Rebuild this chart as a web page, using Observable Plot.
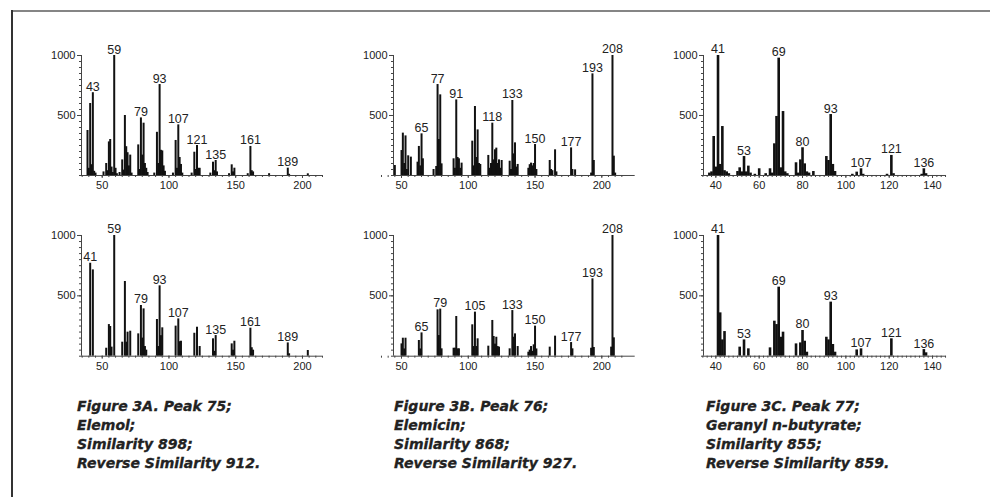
<!DOCTYPE html>
<html><head><meta charset="utf-8">
<script src="https://cdn.jsdelivr.net/npm/d3@7"></script>
<script src="https://cdn.jsdelivr.net/npm/@observablehq/plot@0.6"></script>
<style>
body{margin:0;background:#fff;}
#page{position:relative;width:990px;height:497px;overflow:hidden;background:#fff;}
.cap{position:absolute;font-family:"DejaVu Sans",sans-serif;font-weight:bold;font-style:italic;font-size:14px;line-height:19px;color:#222;white-space:nowrap;-webkit-text-stroke:0.3px #222;}
#bt{position:absolute;left:11px;top:10px;right:0;height:2px;background:#858585;}
#bl{position:absolute;left:11px;top:10px;width:2px;bottom:0;background:#333;}
</style></head>
<body>
<div id="page">
<div id="bt"></div><div id="bl"></div>
</div>
<script>
// ---- Figure 3A: Elemol (top = sample, bottom = library)
const aTopMz  = [39,40,41,42,43,44,45,51,53,54,55,56,57,58,59,60,61,63,65,66,67,68,69,70,71,72,77,78,79,80,81,82,83,84,89,91,92,93,94,95,96,97,103,105,106,107,108,109,110,117,119,120,121,122,123,131,133,134,135,136,145,147,148,149,159,161,162,163,175,189,190,204];
const aTopInt = [375,60,600,90,690,35,20,30,100,40,280,300,70,25,1000,60,15,25,130,45,500,240,190,80,170,20,255,50,480,170,436,100,60,25,20,360,100,758,210,205,80,35,20,292,60,422,150,92,20,20,194,50,250,60,60,20,111,40,125,30,15,89,30,61,15,242,40,30,15,61,10,14];
const aTopLabels = [43,59,79,93,107,121,135,161,189];

const aBotMz  = [41,43,53,55,56,57,59,65,67,68,69,71,77,79,80,81,82,83,91,92,93,94,95,105,107,108,109,119,121,123,133,134,135,147,148,149,161,162,163,189,190,204];
const aBotInt = [770,715,66,262,246,75,1000,116,619,116,199,207,185,420,150,392,80,50,304,80,583,170,235,249,309,120,124,190,240,80,144,40,171,102,50,124,232,70,50,110,20,47];
const aBotLabels = [41,59,79,93,107,135,161,189];

// ---- Figure 3B: Elemicin
const bTopMz  = [45,50,51,52,53,54,55,57,62,63,64,65,66,74,76,77,78,79,80,89,90,91,92,93,94,95,103,104,105,106,107,108,109,115,116,117,118,119,120,121,122,123,124,125,131,132,133,134,135,136,137,145,146,147,148,149,150,151,161,162,163,165,166,177,178,180,192,193,194,208,209,210];
const bTopInt = [83,208,353,100,330,50,164,153,111,242,80,347,139,50,75,758,300,672,97,139,60,630,150,139,60,103,286,80,575,150,380,100,92,167,60,100,436,130,214,228,100,130,60,125,119,50,625,180,272,70,92,60,90,103,80,100,258,50,125,50,40,214,30,230,50,47,20,847,125,1000,161,20];
const bTopLabels = [65,77,91,118,133,150,177,193,208];

const bBotMz  = [50,51,52,53,63,64,65,77,78,79,80,89,90,91,92,93,103,104,105,106,107,115,118,119,120,121,122,123,131,133,134,135,137,145,146,147,148,149,150,151,161,165,177,178,192,193,194,207,208,209];
const bBotInt = [102,149,60,149,130,60,193,384,171,390,61,66,66,329,61,61,260,80,365,80,144,83,296,163,100,157,80,75,61,378,157,185,80,33,50,80,40,94,249,60,75,166,113,61,66,641,72,75,1000,152];
const bBotLabels = [65,79,105,133,150,177,193,208];

// ---- Figure 3C: Geranyl n-butyrate
const cTopMz  = [37,38,39,40,41,42,43,44,45,46,50,51,52,53,54,55,56,58,60,63,65,66,67,68,69,70,71,72,73,77,78,79,80,81,82,83,85,91,92,93,94,95,103,105,107,108,119,121,122,135,136,137];
const cTopInt = [20,30,325,70,1000,92,408,40,30,15,33,64,30,158,30,78,20,10,56,15,56,20,264,492,978,64,533,30,15,106,20,130,231,97,30,20,33,158,125,508,92,33,10,28,56,10,10,167,15,10,56,15];
const cTopLabels = [41,53,69,80,93,107,121,136];

const cBotMz  = [41,42,43,44,51,53,55,65,67,68,69,70,71,77,79,80,81,82,91,92,93,94,95,105,107,121,136,137];
const cBotInt = [1000,359,135,204,75,135,61,69,290,262,572,157,199,102,110,213,124,33,157,135,448,97,33,52,61,144,55,28];
const cBotLabels = [41,53,69,80,93,107,121,136];

// axis ticks
const abMajor = [50,100,150,200];
const abMinor = d3.range(35, 216, 5);
const cMajor = [40,60,80,100,120,140];
const cMinor = d3.range(34, 147, 2);
const yMajor = [500,1000];
const yMinor = d3.range(0, 1001, 50);

const captions = [
  ["Figure 3A. Peak 75;","Elemol;","Similarity 898;","Reverse Similarity 912."],
  ["Figure 3B. Peak 76;","Elemicin;","Similarity 868;","Reverse Similarity 927."],
  ["Figure 3C. Peak 77;","Geranyl n-butyrate;","Similarity 855;","Reverse Similarity 859."]
];

const page = document.getElementById("page");

function panel(mz, inten, labels, cfg) {
  const data = mz.map((m,i)=>({mz:m, v:inten[i]}));
  const lab = labels.map(m=>({mz:m, v:inten[mz.indexOf(m)]}));
  const mL=62, mT=40, mR=12, mB=26;
  const ink = "#444";
  const svg = Plot.plot({
    width: cfg.px1-cfg.px0+mL+mR,
    height: cfg.py0-cfg.py1000+mT+mB,
    marginLeft:mL, marginTop:mT, marginRight:mR, marginBottom:mB,
    x:{type:"linear", domain:cfg.domain, label:null},
    y:{domain:[0,1000], label:null},
    style:{fontFamily:"Arial, 'Liberation Sans', sans-serif", fontSize:"11px", color:"#222", background:"transparent", overflow:"visible"},
    marks:[
      Plot.ruleX(data, {x:"mz", y1:0, y2:"v", stroke:"#111", strokeWidth:cfg.bw}),
      Plot.ruleY([0], {stroke:ink}),
      Plot.ruleX([cfg.domain[0]], {stroke:ink}),
      Plot.axisX({ticks:cfg.major, tickSize:3, tickPadding:3, tickFormat:d=>String(d), label:null, stroke:ink, fill:"#222"}),
      Plot.axisX({ticks:cfg.minor, tickSize:2, label:null, stroke:ink, fill:"none"}),
      Plot.axisY({ticks:yMajor, tickSize:4, tickPadding:2, tickFormat:d=>String(d), label:null, stroke:ink, fill:"#222"}),
      Plot.axisY({ticks:yMinor, tickSize:2, label:null, stroke:ink, fill:"none"}),
      Plot.text(lab, {x:"mz", y:"v", text:d=>String(d.mz), lineAnchor:"bottom", dy:-2, fontSize:12.5, fill:"#222"})
    ]
  });
  svg.style.position = "absolute";
  svg.style.left = (cfg.px0-mL)+"px";
  svg.style.top = (cfg.py1000-mT)+"px";
  page.appendChild(svg);
}

const geomA = {px0:81, px1:322, domain:[34.5,215], major:abMajor, minor:abMinor, bw:2};
const geomB = {px0:393.3, px1:635, domain:[44,225], major:abMajor, minor:abMinor, bw:2};
const geomC = {px0:703.3, px1:946, domain:[34.3,146.3], major:cMajor, minor:cMinor, bw:2.6};
const rowTop = {py1000:55, py0:175};
const rowBot = {py1000:235, py0:355.7};

panel(aTopMz, aTopInt, aTopLabels, {...geomA, ...rowTop});
panel(aBotMz, aBotInt, aBotLabels, {...geomA, ...rowBot});
panel(bTopMz, bTopInt, bTopLabels, {...geomB, ...rowTop});
panel(bBotMz, bBotInt, bBotLabels, {...geomB, ...rowBot});
panel(cTopMz, cTopInt, cTopLabels, {...geomC, ...rowTop});
panel(cBotMz, cBotInt, cBotLabels, {...geomC, ...rowBot});

const capX = [77, 394, 706];
captions.forEach((lines, i) => {
  const d = document.createElement("div");
  d.className = "cap";
  d.style.left = capX[i]+"px";
  d.style.top = "397px";
  lines.forEach((t, j) => {
    if (j) d.appendChild(document.createElement("br"));
    d.appendChild(document.createTextNode(t));
  });
  page.appendChild(d);
});
</script>
</body></html>
